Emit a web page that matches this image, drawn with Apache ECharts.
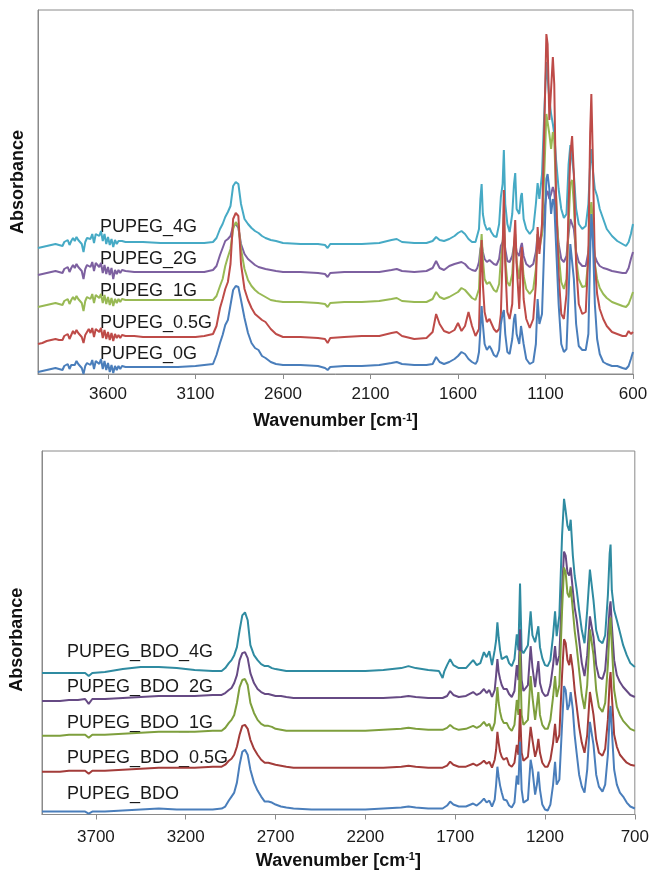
<!DOCTYPE html>
<html><head><meta charset="utf-8">
<script src="https://cdn.jsdelivr.net/npm/echarts@6/dist/echarts.min.js"></script>
<style>html,body{margin:0;padding:0;background:#fff}#c{width:652px;height:871px}</style>
</head><body><div id="c"></div>
<script>
// ---------- top panel (PUPEG), wavenumber grid in cm-1 ----------
const topWn = [
4000,3975,3950,3925,
3900,3890,3880,3870,3860,3850,3840,3830,3820,3810,3800,3790,3780,3770,3760,3750,3740,3730,3720,3710,3700,3690,3680,3670,3660,3650,3640,3630,3620,3610,3600,3590,3580,3570,3560,3550,3540,3530,3520,3510,3500,
3450,3400,3300,3200,3100,
3050,3000,2980,2960,2945,2930,2915,2900,2885,2870,2855,2840,2820,2800,2780,2760,2740,2720,2700,2670,2640,
2600,2500,2400,2360,2345,2330,2250,2150,2050,1980,1950,1920,1850,1780,1745,1725,1705,1680,1650,1620,1600,1580,1560,1540,1520,1500,
1490,1480,1472,1465,1458,1448,1435,1420,1410,1395,1380,1365,1355,1345,1338,1330,1318,1305,1290,1280,1273,1265,1250,1240,1235,1225,1210,1190,1170,1155,1145,1135,1120,1105,1095,1088,1078,1068,1058,1050,1040,1025,1010,995,980,968,958,948,938,925,910,890,870,855,845,838,830,818,805,790,770,750,720,690,660,640,625,612,600];
// absorbance (arbitrary units, offset traces)
const top0G = [
2,3,4,5,
6,8,5,7,4,8,7,10,5,9,11,9,13,10,12,6,0,8,11,13,9,14,5,13,14,10,15,5,13,4,11,2,9,1,8,4,8,5,8,7,7,
7,7,7,7,8,
9,10,19,31,39,49,54,69,84,88,87,74,56,41,31,26,24,18,16,12,10,
9,9,8,6,4,7,8,8,9,11,12,10,9,9,10,17,12,10,12,15,18,22,20,15,12,10,
13,22,45,68,50,30,24,28,25,19,17,24,50,60,64,40,22,20,35,55,60,40,30,48,50,30,15,10,12,30,75,50,60,140,195,200,185,160,175,170,130,70,30,22,25,80,130,132,95,50,28,24,24,40,120,160,140,70,35,20,12,10,8,8,6,5,8,15,22];
const top05G = [
30,31,33,34,
35,37,34,36,34,38,37,40,35,39,43,40,44,41,43,37,31,39,42,45,41,46,37,45,46,42,46,36,44,35,42,34,41,33,40,36,39,36,39,38,38,
38,37,37,37,37,
38,40,48,66,75,85,92,110,155,161,158,110,85,74,66,60,57,54,52,45,40,
37,37,36,35,31,36,37,38,38,41,42,38,35,36,42,60,50,43,41,44,51,43,48,62,48,38,
36,45,100,134,90,62,52,55,57,45,42,45,60,120,184,110,62,55,70,130,154,110,65,115,127,75,55,46,55,90,147,120,150,260,340,330,254,285,317,290,180,100,60,55,80,170,220,238,200,110,70,60,62,120,240,280,220,110,80,65,55,48,42,40,38,38,43,40,42];
const top1G = [
67,68,69,70,
71,73,70,72,69,73,72,75,70,74,77,74,78,75,77,71,63,73,77,79,75,80,71,79,80,76,80,71,79,70,77,69,76,68,75,71,75,72,75,74,74,
74,74,74,74,74,
74,74,78,88,95,108,117,125,145,152,148,125,105,94,88,84,81,79,77,74,73,
72,72,71,70,67,71,72,72,73,75,76,73,72,72,75,82,77,75,77,80,82,86,84,80,76,74,
75,85,120,140,115,95,90,92,90,84,82,90,115,130,160,115,92,88,100,130,140,112,95,115,118,98,85,80,85,105,140,125,140,210,260,262,240,225,242,235,180,120,92,85,95,150,190,194,170,115,95,87,88,115,160,172,155,110,95,86,80,76,72,70,68,67,70,76,82];
const top2G = [
99,100,101,102,
103,105,102,104,101,105,104,107,102,106,109,106,110,107,109,103,95,105,109,111,107,112,103,111,111,107,111,101,109,100,107,99,106,95,104,100,104,101,104,103,103,
102,102,102,102,102,
102,104,108,119,126,133,135,138,148,150,146,130,120,115,112,109,107,106,105,104,103,
102,102,101,100,97,101,102,102,102,104,105,103,102,103,106,113,106,104,108,110,111,112,110,106,104,103,
106,112,125,130,122,115,112,114,113,110,109,115,128,132,140,125,113,112,118,128,132,122,118,128,131,118,110,107,110,122,140,132,140,165,180,183,175,180,187,182,160,130,115,112,118,140,155,156,145,122,112,108,108,122,140,144,135,118,112,108,106,105,103,102,101,101,106,115,122];
const top4G = [
126,127,128,129,
130,132,129,131,128,132,131,134,129,133,136,133,137,134,136,130,122,132,136,138,135,140,131,140,141,138,143,133,140,130,137,129,135,127,134,130,133,131,133,132,132,
132,132,131,131,131,
131,132,136,145,150,157,162,168,188,192,190,170,155,150,146,143,141,138,136,134,133,
131,130,130,129,126,130,130,130,131,134,135,132,131,131,133,137,134,133,135,138,141,143,140,135,132,132,
132,145,175,190,160,150,144,146,142,138,137,150,177,190,224,170,150,142,160,190,201,165,160,178,181,155,145,140,145,170,191,175,200,270,312,314,275,260,250,240,215,185,165,156,160,210,229,227,200,165,150,145,148,170,210,225,205,185,178,165,155,145,138,133,130,128,132,140,150];
const topTicks = [3600,3100,2600,2100,1600,1100,600];
const topNames = ['PUPEG_0G','PUPEG_0.5G','PUPEG_1G','PUPEG_2G','PUPEG_4G'];

// ---------- bottom panel (PUPEG_BDO) ----------
const botWn = [
4000,3950,3900,3850,3800,3760,3740,3720,3650,3550,3450,3350,3250,3150,3050,
3000,2980,2960,2945,2930,2915,2900,2885,2870,2855,2840,2820,2800,2780,2760,2740,2720,2700,2670,2640,
2600,2500,2400,2300,2200,2100,2000,1960,1920,1850,1790,1770,1760,1745,1728,1710,1680,1640,1600,1580,1560,1540,1525,1510,1495,1480,
1472,1465,1458,1450,1441,1430,1413,1400,1385,1370,1357,1348,1339,1330,1320,1311,1295,1280,1270,1255,1245,1237,1228,1215,1200,1185,1170,1155,1144,1135,1120,1105,1094,1085,1075,1065,1057,1045,1035,1024,1010,995,980,965,950,940,930,915,900,880,865,850,840,835,828,815,800,783,765,745,725,700];
const bdo0 = [
3,3,3,3,3,3,1,3,3,4,5,6,5,5,5,
6,8,14,18,22,32,50,63,65,60,45,32,24,18,13,13,12,10,8,7,
6,5,5,5,5,6,7,8,7,6,6,6,7,9,13,10,8,8,11,9,12,16,12,14,8,15,
30,48,38,29,22,15,14,9,7,12,39,30,73,25,12,10,15,55,45,20,30,43,25,10,5,4,10,30,53,30,35,90,129,125,105,110,123,105,80,62,40,28,22,45,93,92,70,40,28,23,30,60,100,109,85,45,30,22,18,12,8,6];
const bdo05 = [
43,43,43,44,44,44,41,44,44,45,46,47,47,47,48,
48,50,54,56,60,68,80,89,90,86,75,66,60,55,52,52,51,50,49,48,
47,47,47,47,47,47,48,49,48,47,47,47,47,49,53,50,48,48,51,49,51,54,51,53,47,55,
65,83,72,63,58,55,57,50,48,52,70,60,106,62,54,52,58,88,75,58,65,76,62,52,48,48,55,72,91,72,80,140,176,172,155,150,161,145,125,109,88,72,62,80,123,122,100,75,62,59,66,95,135,143,120,80,68,60,56,52,50,49];
const bdo1 = [
79,79,79,80,80,80,77,80,80,81,82,83,83,83,84,
84,87,92,95,100,112,128,135,136,130,112,102,95,91,89,89,88,86,85,84,
84,84,84,84,84,85,86,87,86,85,85,85,85,87,90,87,85,86,89,87,89,93,89,91,84,92,
110,128,112,103,96,92,92,87,84,90,115,100,164,100,90,88,95,139,118,95,110,123,100,90,86,86,95,118,139,118,130,205,248,243,222,218,229,205,185,169,145,120,106,130,186,185,160,125,108,103,112,150,190,198,170,125,108,100,94,90,86,84];
const bdo2 = [
114,114,114,115,115,116,111,116,116,117,118,119,119,119,120,
120,122,125,127,132,140,155,162,163,157,142,132,126,123,121,121,120,119,119,118,
117,117,117,117,117,117,118,119,118,117,117,117,117,119,124,120,118,119,123,120,122,126,122,125,118,125,
140,156,143,136,130,126,126,121,118,124,150,135,186,135,124,122,130,169,148,128,143,154,132,123,119,120,130,150,169,150,160,225,264,260,243,240,248,225,208,196,175,152,139,160,199,198,178,150,138,136,145,180,208,214,190,155,140,133,128,124,120,118];
const bdo4 = [
142,142,142,142,142,142,139,142,143,146,148,148,147,145,144,
144,147,152,155,160,168,185,200,203,195,170,160,155,151,149,149,147,146,145,144,
144,144,144,144,144,145,147,149,147,145,144,137,144,150,156,150,147,147,155,150,152,163,158,164,150,165,
175,193,178,165,156,158,159,152,149,156,181,165,232,165,162,160,170,204,180,173,182,189,168,157,150,149,155,180,204,179,200,280,317,305,290,285,296,260,240,226,205,185,172,205,246,244,215,185,175,172,180,220,262,271,225,205,195,183,170,160,152,148];
const botTicks = [3700,3200,2700,2200,1700,1200,700];
const botNames = ['PUPEG_BDO','PUPEG_BDO_0.5G','PUPEG_BDO_1G','PUPEG_BDO_2G','PUPEG_BDO_4G'];

const topColors = ['#4A7EBB','#BE4B48','#98B954','#7D60A0','#46AAC5'];
const botColors = ['#4A7EBB','#A33C3A','#7E9F3D','#664A84','#2F8BA1'];
const FONT = '"Liberation Sans", Arial, sans-serif';
const GRAY = '#8A8A8A';

function zip(wn, v){ return wn.map((w,i)=>[w, v[i]]); }
const topSets = [top0G, top05G, top1G, top2G, top4G];
const botSets = [bdo0, bdo05, bdo1, bdo2, bdo4];
let bad = topSets.some(s=>s.length!==topWn.length) || botSets.some(s=>s.length!==botWn.length);

const series = [];
for (let i = 4; i >= 0; i--) {
  series.push({type:'line', name: topNames[i], xAxisIndex:0, yAxisIndex:0, data: zip(topWn, topSets[i]),
    showSymbol:false, lineStyle:{width:2, color: topColors[i]}, itemStyle:{color: topColors[i]}, animation:false});
  series.push({type:'line', name: botNames[i], xAxisIndex:1, yAxisIndex:1, data: zip(botWn, botSets[i]),
    showSymbol:false, lineStyle:{width:2, color: botColors[i]}, itemStyle:{color: botColors[i]}, animation:false});
}

function xAxis(grid, min, ticks, gap, margin){
  return {gridIndex:grid, type:'value', inverse:true, min:min, max:4000,
    axisLine:{show:true, onZero:false, lineStyle:{color:GRAY, width:1}},
    axisTick:{show:true, inside:false, length:5, customValues:ticks, lineStyle:{color:GRAY}},
    axisLabel:{customValues:ticks, formatter:(v)=>String(v), margin:margin, fontSize:17, color:'#1a1a1a', fontFamily:FONT},
    splitLine:{show:false},
    name:'Wavenumber [cm{s|-1}]', nameLocation:'middle', nameGap:gap,
    nameTextStyle:{fontSize:18, fontWeight:'bold', color:'#111', fontFamily:FONT,
      rich:{s:{fontSize:11, fontWeight:'bold', color:'#111', fontFamily:FONT, verticalAlign:'top', padding:[0,0,8,0]}}}};
}
function yAxis(grid, max, gap, pad){
  return {gridIndex:grid, type:'value', min:0, max:max,
    axisLine:{show:true, lineStyle:{color:GRAY, width:1}}, axisTick:{show:false}, axisLabel:{show:false}, splitLine:{show:false},
    name:'Absorbance', nameLocation:'middle', nameRotate:90, nameGap:gap,
    nameTextStyle:{fontSize:18, fontWeight:'bold', color:'#111', fontFamily:FONT, padding:pad}};
}
function lbl(x, y, t){ return {type:'text', x:x, y:y, style:{text:t, fontSize:18, fill:'#1a1a1a', fontFamily:FONT, align:'left', verticalAlign:'middle'}}; }

const graphic = [
  lbl(100,227,topNames[4]), lbl(100,259,topNames[3]), lbl(100,291,topNames[2]), lbl(100,323,topNames[1]), lbl(100,354,topNames[0]),
  lbl(67,652,botNames[4]), lbl(67,687,botNames[3]), lbl(67,723,botNames[2]), lbl(67,758,botNames[1]), lbl(67,794,botNames[0])
];
if (bad) graphic.push({type:'text', x:300, y:430, style:{text:'LENGTH MISMATCH', fontSize:20, fill:'red'}});

const chart = echarts.init(document.getElementById('c'), null, {renderer:'canvas'});
chart.setOption({
  animation:false,
  backgroundColor:'#fff',
  grid:[
    {left:38, top:10, width:595, height:364, show:true, borderColor:GRAY, borderWidth:1, backgroundColor:'transparent'},
    {left:41, top:451, width:594, height:365, show:true, borderColor:GRAY, borderWidth:1, backgroundColor:'transparent'}
  ],
  xAxis:[xAxis(0,600,topTicks,38,12), xAxis(1,700,botTicks,37,14)],
  yAxis:[yAxis(0,364,11,[0,0,0,20]), yAxis(1,365,16,[0,14,0,0])],
  series: series,
  graphic: graphic
});
</script></body></html>
